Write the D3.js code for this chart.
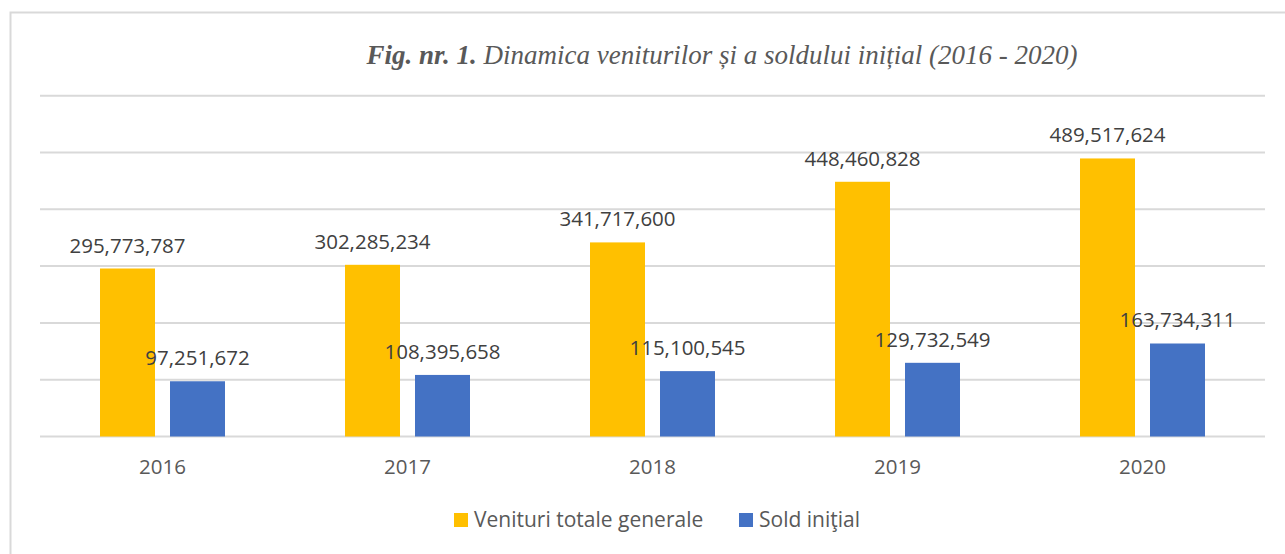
<!DOCTYPE html>
<html>
<head>
<meta charset="utf-8">
<script src="https://cdn.jsdelivr.net/npm/d3@7"></script>
<style>
  body { margin: 0; background: #fff; }
  svg { display: block; }
  .grid line { stroke: #d9d9d9; stroke-width: 2; }
  .val-label { font-family: "Open Sans", sans-serif; font-size: 20.5px; fill: #404040; }
  .x-label { font-family: "Open Sans", sans-serif; font-size: 20.5px; fill: #595959; }
  .legend text { font-family: "Open Sans", sans-serif; font-size: 21px; fill: #595959; }
  .title { font-family: "Liberation Serif", "Times New Roman", serif; font-style: italic; font-size: 27px; fill: #595959; }
</style>
</head>
<body>
<svg id="chart" width="1285" height="554"></svg>
<script>
// data
const years = ['2016', '2017', '2018', '2019', '2020'];
const venituri = [295773787, 302285234, 341717600, 448460828, 489517624];
const sold = [97251672, 108395658, 115100545, 129732549, 163734311];
const seriesNames = ['Venituri totale generale', 'Sold iniţial'];
const seriesColors = ['#ffc000', '#4472c4'];
const yTicks = [0, 100e6, 200e6, 300e6, 400e6, 500e6, 600e6];

const svg = d3.select('#chart');

// outer frame
svg.append('rect')
    .attr('x', 10.5).attr('y', 12.5)
    .attr('width', 1300).attr('height', 600)
    .attr('fill', 'none')
    .attr('stroke', '#d9d9d9')
    .attr('stroke-width', 2);

// title
const title = svg.append('text')
    .attr('class', 'title')
    .attr('x', 722).attr('y', 64)
    .attr('text-anchor', 'middle');
title.append('tspan').attr('font-weight', 'bold').text('Fig. nr. 1.');
title.append('tspan').text(' Dinamica veniturilor și a soldului inițial (2016 - 2020)');

const plot = { left: 40, right: 1265, top: 95.7, bottom: 436.5 };

const x = d3.scaleBand()
    .domain(years)
    .range([plot.left, plot.right]);

const y = d3.scaleLinear()
    .domain([0, 600e6])
    .range([plot.bottom, plot.top]);

// gridlines
svg.append('g')
    .attr('class', 'grid')
    .selectAll('line')
    .data(yTicks)
    .join('line')
    .attr('x1', plot.left).attr('x2', plot.right)
    .attr('y1', d => y(d)).attr('y2', d => y(d))
    .attr('stroke-width', d => d === 0 ? 2.5 : 2);

const barW = 55, barGap = 15;
const rows = years.map((yr, i) => ({ year: yr, values: [venituri[i], sold[i]] }));

const groups = svg.append('g')
    .selectAll('g')
    .data(rows)
    .join('g')
    .attr('transform', d => `translate(${x(d.year) + x.bandwidth() / 2},0)`);

const offset = k => (k === 0 ? -(barW + barGap / 2) : barGap / 2);

groups.selectAll('rect')
    .data(d => d.values)
    .join('rect')
    .attr('x', (d, k) => offset(k))
    .attr('y', d => y(d))
    .attr('width', barW)
    .attr('height', d => y(0) - y(d))
    .attr('fill', (d, k) => seriesColors[k]);

groups.selectAll('text.val-label')
    .data(d => d.values)
    .join('text')
    .attr('class', 'val-label')
    .attr('x', (d, k) => offset(k) + barW / 2)
    .attr('y', d => y(d) - 16)
    .attr('text-anchor', 'middle')
    .text(d => d3.format(',')(d));

// x axis labels
svg.append('g')
    .selectAll('text')
    .data(years)
    .join('text')
    .attr('class', 'x-label')
    .attr('x', d => x(d) + x.bandwidth() / 2)
    .attr('y', 474)
    .attr('text-anchor', 'middle')
    .text(d => d);

// legend
const legend = svg.append('g').attr('class', 'legend');
const legendX = [454, 739];
const items = legend.selectAll('g')
    .data(seriesNames)
    .join('g')
    .attr('transform', (d, i) => `translate(${legendX[i]},513)`);
items.append('rect')
    .attr('width', 14).attr('height', 14)
    .attr('fill', (d, i) => seriesColors[i]);
items.append('text')
    .attr('x', 20).attr('y', 14)
    .text(d => d);
</script>
</body>
</html>
